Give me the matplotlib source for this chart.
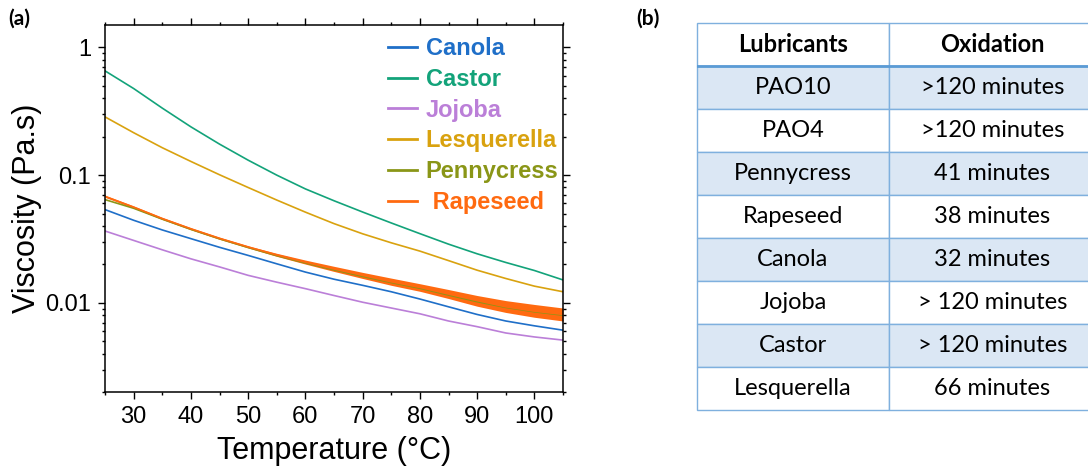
import matplotlib.pyplot as plt
import numpy as np

plt.rcParams['font.family'] = ['Liberation Sans', 'DejaVu Sans']

# viscosity curves (Pa.s), every 5 degC
temperature = [25, 30, 35, 40, 45, 50, 55, 60, 65, 70, 75, 80, 85, 90, 95, 100, 105]
canola = [0.0537, 0.0443, 0.0372, 0.0318, 0.0272, 0.0235, 0.0202, 0.0174, 0.0153,
          0.0137, 0.0122, 0.0107, 0.0093, 0.0081, 0.0072, 0.0066, 0.0061]
castor = [0.656, 0.477, 0.335, 0.239, 0.175, 0.131, 0.100, 0.078, 0.063,
          0.0514, 0.0422, 0.0348, 0.0288, 0.0242, 0.0207, 0.0179, 0.0151]
jojoba = [0.0365, 0.0308, 0.0260, 0.0221, 0.0191, 0.0164, 0.0145, 0.0129, 0.0114,
          0.0101, 0.0091, 0.0082, 0.0072, 0.0065, 0.0058, 0.0054, 0.0051]
lesquerella = [0.286, 0.215, 0.164, 0.128, 0.1007, 0.0800, 0.0638, 0.0513, 0.0417,
               0.0347, 0.0295, 0.0254, 0.0214, 0.0180, 0.0155, 0.0135, 0.0122]
pennycress = [0.0643, 0.0550, 0.0452, 0.0376, 0.0317, 0.0271, 0.0234, 0.0205, 0.0181,
              0.0161, 0.0144, 0.0130, 0.0115, 0.0102, 0.0092, 0.0085, 0.0080]
rapeseed = [0.0682, 0.0562, 0.0457, 0.0380, 0.0320, 0.0274, 0.0237, 0.0208, 0.0184,
            0.0164, 0.0146, 0.0132, 0.0117, 0.0104, 0.0093, 0.0086, 0.0081]
# noisy band of the rapeseed trace
rapeseed_upper = [0.0695, 0.0573, 0.0466, 0.0387, 0.0326, 0.0279, 0.0244, 0.0216, 0.0193,
                  0.0173, 0.0156, 0.0141, 0.0127, 0.0114, 0.0104, 0.0097, 0.0091]
rapeseed_lower = [0.0670, 0.0552, 0.0449, 0.0373, 0.0314, 0.0269, 0.0231, 0.0201, 0.0176,
                  0.0155, 0.0137, 0.0123, 0.0108, 0.0094, 0.0084, 0.0077, 0.0072]

series = [
    ('Canola', canola, '#1f6fc8'),
    ('Castor', castor, '#13a37a'),
    ('Jojoba', jojoba, '#bb7fd8'),
    ('Lesquerella', lesquerella, '#d9a20f'),
    ('Pennycress', pennycress, '#8a9617'),
    (' Rapeseed', rapeseed, '#ff6a10'),
]

# table (b)
lubricants = ['PAO10', 'PAO4', 'Pennycress', 'Rapeseed', 'Canola', 'Jojoba', 'Castor', 'Lesquerella']
oxidation = ['>120 minutes', '>120 minutes', '41 minutes', '38 minutes', '32 minutes',
             '> 120 minutes', '> 120 minutes', '66 minutes']

W, H = 1088, 472
fig = plt.figure(figsize=(W / 100, H / 100), dpi=100)

ax = fig.add_axes([105 / W, 1 - 392 / H, (563 - 105) / W, (392 - 25) / H])
for name, vals, col in series:
    ax.plot(temperature, vals, color=col, linewidth=1.2, label=name)
ax.fill_between(temperature, rapeseed_lower, rapeseed_upper, color='#ff6a10', linewidth=0)

ax.set_yscale('log')
ax.set_xlim(25, 105)
ax.set_ylim(0.002, 1.5)
ax.set_xticks(range(30, 101, 10))
ax.set_xticks(range(25, 106, 10), minor=True)
ax.set_yticks([0.01, 0.1, 1], ['0.01', '0.1', '1'])
ax.tick_params(which='both', direction='out', top=True, right=True, width=1)
ax.tick_params(which='major', length=5, labelsize=17, pad=5)
ax.tick_params(which='minor', length=2.5)
for s in ax.spines.values():
    s.set_linewidth(1.1)
ax.set_xlabel('Temperature (°C)', fontsize=22, labelpad=6)
ax.set_ylabel('Viscosity (Pa.s)', fontsize=22, labelpad=2)

leg = ax.legend(loc='upper right', bbox_to_anchor=(1.0, 0.98), frameon=False,
                handlelength=1.25, handletextpad=0.35, labelspacing=0.33, borderpad=0.2,
                borderaxespad=0.0, labelcolor='linecolor',
                prop={'weight': 'bold', 'size': 17})
for h in leg.get_lines():
    h.set_linewidth(2)

fig.text(8 / W, 1 - 19 / H, '(a)', fontsize=15, fontweight='bold', family=['Lato', 'DejaVu Sans'],
         va='center')
fig.text(636 / W, 1 - 19 / H, '(b)', fontsize=15, fontweight='bold', family=['Lato', 'DejaVu Sans'],
         va='center')

# table
ax2 = fig.add_axes([697 / W, 1 - 410 / H, (1096 - 697) / W, (410 - 23) / H])
ax2.axis('off')
cell_text = [[a, b] for a, b in zip(lubricants, oxidation)]
tab = ax2.table(cellText=cell_text, colLabels=['Lubricants', 'Oxidation'],
                cellLoc='center', bbox=[0, 0, 1, 1], colWidths=[192, 207])
tab.auto_set_font_size(False)
for (r, c), cell in tab.get_celld().items():
    cell.set_edgecolor('#7fb0de')
    cell.set_linewidth(1.0)
    if r == 0:
        cell.set_facecolor('white')
        cell.get_text().set_fontweight('bold')
    elif r % 2 == 1:
        cell.set_facecolor('#dbe7f4')
    else:
        cell.set_facecolor('white')
    cell.get_text().set_fontsize(17)
    cell.get_text().set_family(['Lato', 'DejaVu Sans'])
ax2.axhline(8 / 9, color='#5b9bd5', linewidth=2)

fig.savefig('out.png', dpi=100)
